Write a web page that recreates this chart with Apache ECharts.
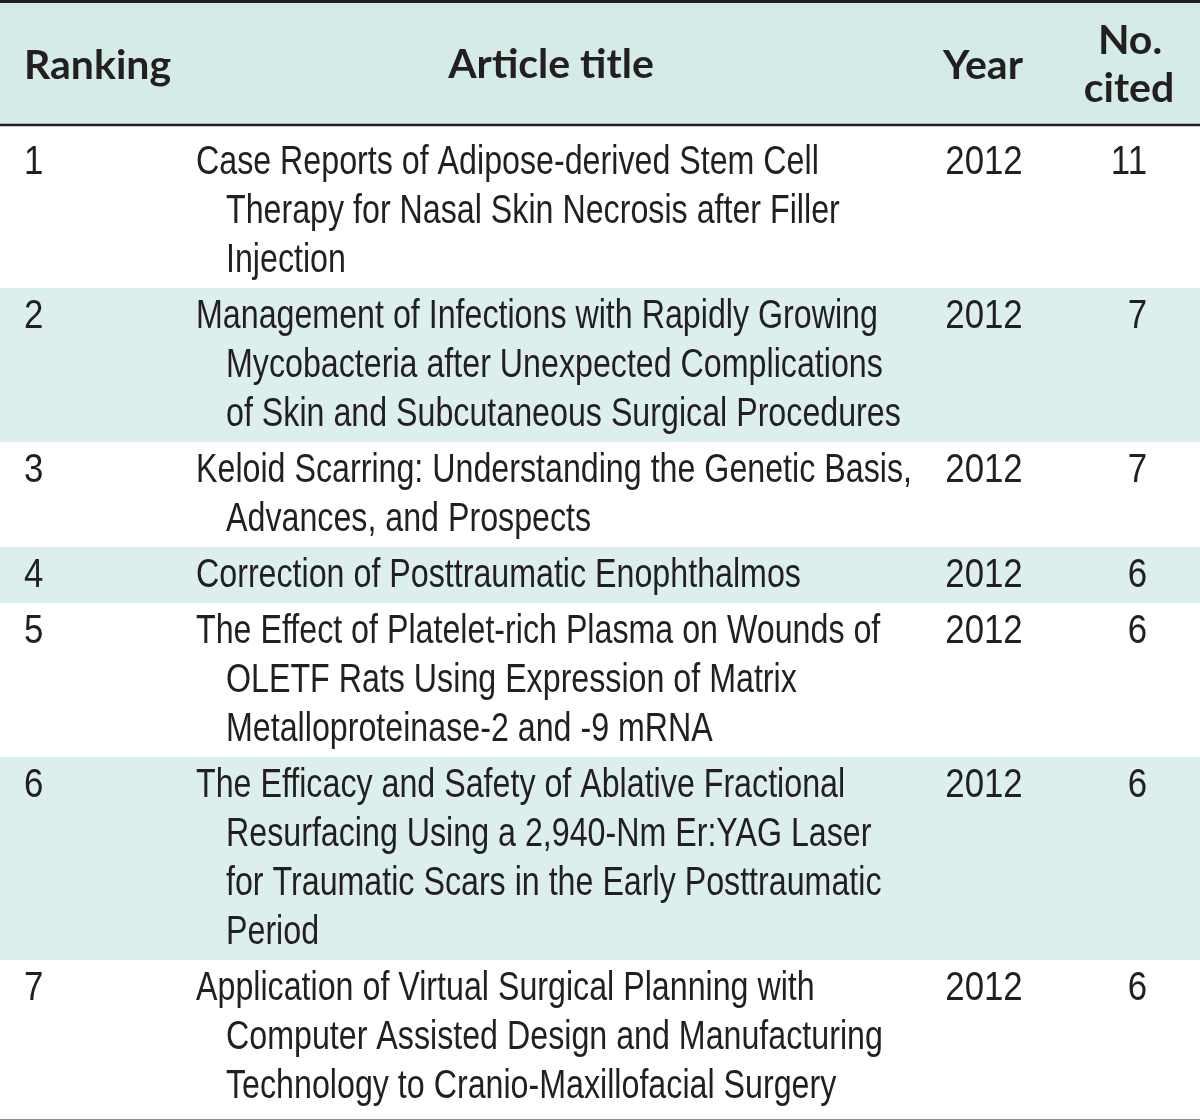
<!DOCTYPE html>
<html>
<head>
<meta charset="utf-8">
<script src="https://cdn.jsdelivr.net/npm/echarts@6/dist/echarts.min.js"></script>
<style>
  html, body { margin: 0; padding: 0; background: #ffffff; }
  #chart { width: 1200px; height: 1120px; }
</style>
</head>
<body>
<div id="chart"></div>
<script>
// ---- data ----
const headers = ['Ranking', 'Article title', 'Year', 'No.\ncited'];
const rankings = [1, 2, 3, 4, 5, 6, 7];
const titleLines = [
  ['Case Reports of Adipose-derived Stem Cell', 'Therapy for Nasal Skin Necrosis after Filler', 'Injection'],
  ['Management of Infections with Rapidly Growing', 'Mycobacteria after Unexpected Complications', 'of Skin and Subcutaneous Surgical Procedures'],
  ['Keloid Scarring: Understanding the Genetic Basis,', 'Advances, and Prospects'],
  ['Correction of Posttraumatic Enophthalmos'],
  ['The Effect of Platelet-rich Plasma on Wounds of', 'OLETF Rats Using Expression of Matrix', 'Metalloproteinase-2 and -9 mRNA'],
  ['The Efficacy and Safety of Ablative Fractional', 'Resurfacing Using a 2,940-Nm Er:YAG Laser', 'for Traumatic Scars in the Early Posttraumatic', 'Period'],
  ['Application of Virtual Surgical Planning with', 'Computer Assisted Design and Manufacturing', 'Technology to Cranio-Maxillofacial Surgery']
];
const years = [2012, 2012, 2012, 2012, 2012, 2012, 2012];
const cited = [11, 7, 7, 6, 6, 6, 6];

// ---- layout / style ----
const W = 1200;
const TEXT = '#231f20';
const HEAD_BG = '#d4ebe8';
const ROW_BG = '#ddefed';
const BODY_FONT = '"Liberation Sans", Arial, sans-serif';
const HEAD_FONT = 'Lato, "Open Sans", sans-serif';
const BODY_SIZE = 40;
const HEAD_SIZE = 41;
const SX_TEXT = 0.805;
const SX_NUM = 0.87;
const LINE = 49;
const MID_BODY = 12; // baseline -> middle offset
const MID_HEAD = 14;

const graphics = [];
function bodyText(str, x, baseline, align, sx) {
  graphics.push({
    type: 'text', x: x, y: baseline - MID_BODY, scaleX: sx, silent: true,
    style: { text: String(str), fill: TEXT, font: BODY_SIZE + 'px ' + BODY_FONT,
             align: align, verticalAlign: 'middle' }
  });
}
function headText(str, x, baseline, align) {
  graphics.push({
    type: 'text', x: x, y: baseline - MID_HEAD, silent: true,
    style: { text: str, fill: TEXT, font: 'bold ' + HEAD_SIZE + 'px ' + HEAD_FONT,
             align: align, verticalAlign: 'middle' }
  });
}

// header background
graphics.push({ type: 'rect', shape: { x: 0, y: 0, width: W, height: 125 }, style: { fill: HEAD_BG }, silent: true });

// rows
let cursorY = 126;
const rowBoxes = [];
titleLines.forEach((lines, i) => {
  const extraTop = i === 0 ? 8 : 0;
  const extraBot = i === titleLines.length - 1 ? 6 : 0;
  const h = 7 + LINE * lines.length + extraTop + extraBot;
  rowBoxes.push({ y0: cursorY, h: h, base: cursorY + 41 + extraTop });
  cursorY += h;
});
rowBoxes.forEach((b, i) => {
  if (i % 2 === 1) {
    graphics.push({ type: 'rect', shape: { x: 0, y: b.y0, width: W, height: b.h }, style: { fill: ROW_BG }, silent: true });
  }
});

// rules
graphics.push({ type: 'line', shape: { x1: 0, y1: 1.5, x2: W, y2: 1.5 }, style: { stroke: TEXT, lineWidth: 3 }, silent: true });
graphics.push({ type: 'line', shape: { x1: 0, y1: 125, x2: W, y2: 125 }, style: { stroke: TEXT, lineWidth: 2.5 }, silent: true });
graphics.push({ type: 'line', shape: { x1: 0, y1: cursorY + 1, x2: W, y2: cursorY + 1 }, style: { stroke: TEXT, lineWidth: 3 }, silent: true });

// header text
headText(headers[0], 24, 80, 'left');
headText(headers[1], 551, 79, 'center');
headText(headers[2], 983, 80, 'center');
const hc = headers[3].split('\n');
headText(hc[0], 1130, 55, 'center');
headText(hc[1], 1129, 103, 'center');

// body
rowBoxes.forEach((b, i) => {
  bodyText(rankings[i], 24, b.base, 'left', SX_NUM);
  titleLines[i].forEach((ln, k) => {
    bodyText(ln, k === 0 ? 196 : 226, b.base + k * LINE, 'left', SX_TEXT);
  });
  bodyText(years[i], 984, b.base, 'center', SX_NUM);
  bodyText(cited[i], 1147, b.base, 'right', SX_NUM);
});

const chart = echarts.init(document.getElementById('chart'), null, { renderer: 'canvas' });
chart.setOption({
  backgroundColor: '#ffffff',
  animation: false,
  graphic: { elements: graphics }
});
</script>
</body>
</html>
